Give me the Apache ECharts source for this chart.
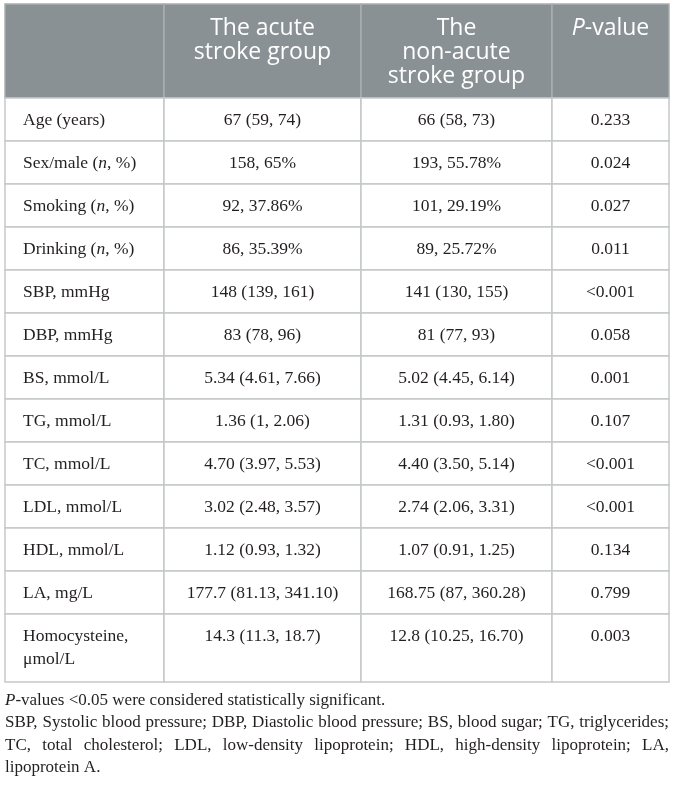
<!DOCTYPE html>
<html>
<head>
<meta charset="utf-8">
<script src="https://cdn.jsdelivr.net/npm/echarts@6/dist/echarts.min.js"></script>
<style>
html, body { margin: 0; padding: 0; background: #ffffff; }
#main { width: 674px; height: 789px; }
</style>
</head>
<body>
<div id="main"></div>
<script>
// ---------------- data ----------------
const columnHeaders = ['', 'The acute\nstroke group', 'The\nnon-acute\nstroke group', '{i|P}-value'];
const variables = [
  'Age (years)', 'Sex/male ({i|n}, %)', 'Smoking ({i|n}, %)', 'Drinking ({i|n}, %)',
  'SBP, mmHg', 'DBP, mmHg', 'BS, mmol/L', 'TG, mmol/L', 'TC, mmol/L',
  'LDL, mmol/L', 'HDL, mmol/L', 'LA, mg/L', 'Homocysteine,\nμmol/L'
];
const acuteGroup = [
  '67 (59, 74)', '158, 65%', '92, 37.86%', '86, 35.39%', '148 (139, 161)',
  '83 (78, 96)', '5.34 (4.61, 7.66)', '1.36 (1, 2.06)', '4.70 (3.97, 5.53)',
  '3.02 (2.48, 3.57)', '1.12 (0.93, 1.32)', '177.7 (81.13, 341.10)', '14.3 (11.3, 18.7)'
];
const nonAcuteGroup = [
  '66 (58, 73)', '193, 55.78%', '101, 29.19%', '89, 25.72%', '141 (130, 155)',
  '81 (77, 93)', '5.02 (4.45, 6.14)', '1.31 (0.93, 1.80)', '4.40 (3.50, 5.14)',
  '2.74 (2.06, 3.31)', '1.07 (0.91, 1.25)', '168.75 (87, 360.28)', '12.8 (10.25, 16.70)'
];
const pValues = [
  '0.233', '0.024', '0.027', '0.011', '<0.001', '0.058', '0.001',
  '0.107', '<0.001', '<0.001', '0.134', '0.799', '0.003'
];
const footnoteNote = '{i|P}-values <0.05 were considered statistically significant.';
const footnoteAbbrev = [
  'SBP, Systolic blood pressure; DBP, Diastolic blood pressure; BS, blood sugar; TG, triglycerides;',
  'TC, total cholesterol; LDL, low-density lipoprotein; HDL, high-density lipoprotein; LA,',
  'lipoprotein A.'
];

// ---------------- layout ----------------
const TABLE_LEFT = 5, TABLE_TOP = 4;
const colWidths = [159, 197, 191, 117];
const rowHeights = [94, 43, 43, 43, 43, 43, 43, 43, 43, 43, 43, 43, 43, 68];
const colEdges = [TABLE_LEFT];
colWidths.forEach(w => colEdges.push(colEdges[colEdges.length - 1] + w));
const rowEdges = [TABLE_TOP];
rowHeights.forEach(h => rowEdges.push(rowEdges[rowEdges.length - 1] + h));
const TABLE_RIGHT = colEdges[colEdges.length - 1];
const TABLE_BOTTOM = rowEdges[rowEdges.length - 1];

const SERIF = '"Liberation Serif", "Times New Roman", serif';
const SANS = '"Open Sans", "Noto Sans", sans-serif';
const TEXT_COLOR = '#231f20';
const HEADER_BG = '#8a9194';

// ---------------- cells ----------------
const cells = [];
columnHeaders.forEach((t, c) => cells.push({ col: c, row: 0, text: t }));
const bodyColumns = [variables, acuteGroup, nonAcuteGroup, pValues];
for (let r = 0; r < variables.length; r++) {
  bodyColumns.forEach((arr, c) => cells.push({ col: c, row: r + 1, text: arr[r] }));
}

function renderItem(params, api) {
  const cell = cells[params.dataIndex];
  const p0 = api.coord([colEdges[cell.col], rowEdges[cell.row]]);
  const p1 = api.coord([colEdges[cell.col + 1], rowEdges[cell.row + 1]]);
  const isHeader = cell.row === 0;
  const fontSize = isHeader ? 23 : 17.5;
  const fontFamily = isHeader ? SANS : SERIF;
  const fill = isHeader ? '#ffffff' : TEXT_COLOR;
  const lineHeight = isHeader ? 24 : 23;
  const textX = cell.col === 0 ? p0[0] + 18 : (p0[0] + p1[0]) / 2;
  return {
    type: 'group',
    children: [
      {
        type: 'rect',
        shape: { x: p0[0], y: p0[1], width: p1[0] - p0[0], height: p1[1] - p0[1] },
        style: { fill: isHeader ? HEADER_BG : '#ffffff', stroke: isHeader ? '#a9aeb0' : '#c5c8c9', lineWidth: 1.5 },
        z2: isHeader ? 1 : 2
      },
      {
        type: 'text',
        z2: 5,
        style: {
          text: cell.text,
          x: textX,
          y: p0[1] + (isHeader ? 12 : 11),
          align: cell.col === 0 ? 'left' : 'center',
          verticalAlign: 'top',
          fill: fill,
          fontSize: fontSize,
          fontFamily: fontFamily,
          lineHeight: lineHeight,
          rich: {
            i: { fontStyle: 'italic', fontSize: fontSize, fontFamily: fontFamily, fill: fill, lineHeight: lineHeight }
          }
        }
      }
    ]
  };
}

// ---------------- footnote (justified) ----------------
const measureCtx = document.createElement('canvas').getContext('2d');
function measure(text, size) {
  measureCtx.font = size + 'px "Liberation Serif"';
  return measureCtx.measureText(text).width;
}
const availWidth = TABLE_RIGHT - TABLE_LEFT;
let footSize = availWidth * 100 / measure(footnoteAbbrev[0], 100);
footSize = Math.max(14, Math.min(17, footSize));
const FOOT_LINE = 22.4;
const footTop = TABLE_BOTTOM + 18.5;

const graphics = [];
function footText(text, x, y) {
  return {
    type: 'text', x: x, y: y, silent: true,
    style: {
      text: text, fill: TEXT_COLOR, fontSize: footSize, fontFamily: SERIF,
      verticalAlign: 'middle', align: 'left',
      rich: { i: { fontStyle: 'italic', fontSize: footSize, fontFamily: SERIF, fill: TEXT_COLOR } }
    }
  };
}
graphics.push(footText(footnoteNote, TABLE_LEFT, footTop));
footnoteAbbrev.forEach((line, k) => {
  const y = footTop + FOOT_LINE * (k + 1);
  const isLast = k === footnoteAbbrev.length - 1;
  if (isLast) { graphics.push(footText(line, TABLE_LEFT, y)); return; }
  const words = line.split(' ');
  const widths = words.map(w => measure(w, footSize));
  const total = widths.reduce((a, b) => a + b, 0);
  const gap = (availWidth - total) / (words.length - 1);
  let x = TABLE_LEFT;
  words.forEach((w, i) => {
    graphics.push(footText(w, x, y));
    x += widths[i] + gap;
  });
});

// ---------------- chart ----------------
const chart = echarts.init(document.getElementById('main'), null, { renderer: 'canvas' });
chart.setOption({
  animation: false,
  backgroundColor: '#ffffff',
  grid: { left: 0, right: 0, top: 0, bottom: 0 },
  xAxis: { type: 'value', min: 0, max: 674, show: false },
  yAxis: { type: 'value', min: 0, max: 789, inverse: true, show: false },
  series: [{
    type: 'custom',
    clip: false,
    renderItem: renderItem,
    data: cells.map(c => [colEdges[c.col], rowEdges[c.row]])
  }],
  graphic: graphics
});
</script>
</body>
</html>
